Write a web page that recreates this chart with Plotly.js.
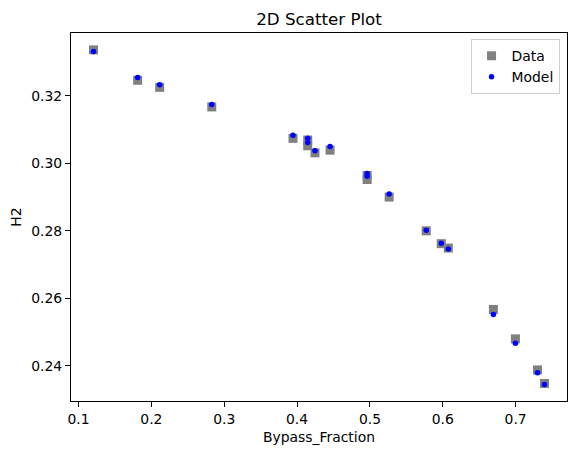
<!DOCTYPE html>
<html>
<head>
<meta charset="utf-8">
<script src="https://cdn.plot.ly/plotly-3.0.1.min.js"></script>
<style>html,body{margin:0;padding:0;background:#fff;}#chart{width:576px;height:455px;}</style>
</head>
<body>
<div id="chart"></div>
<script>
const bypassFraction = [0.1206, 0.1812, 0.2114, 0.2829, 0.3944, 0.4146, 0.4146, 0.4246, 0.4453, 0.4962, 0.4962, 0.5264, 0.5773, 0.5979, 0.6076, 0.6695, 0.6997, 0.7300, 0.7396];
const h2Data = [0.3336, 0.3246, 0.3225, 0.3167, 0.3074, 0.3069, 0.3052, 0.3031, 0.3039, 0.2964, 0.2952, 0.2900, 0.2800, 0.2762, 0.2749, 0.2567, 0.2480, 0.2388, 0.2348];
const h2Model = [0.3331, 0.3254, 0.3233, 0.3174, 0.3083, 0.3074, 0.3062, 0.3037, 0.3050, 0.2970, 0.2962, 0.2909, 0.2802, 0.2763, 0.2746, 0.2552, 0.2467, 0.2380, 0.2345];

const font = "DejaVu Sans, sans-serif";
const traces = [
  {x: bypassFraction, y: h2Data, mode: 'markers', type: 'scatter', name: 'Data',
   marker: {symbol: 'square', size: 9, color: '#808080', line: {width: 0}}},
  {x: bypassFraction, y: h2Model, mode: 'markers', type: 'scatter', name: 'Model',
   marker: {symbol: 'circle', size: 5.5, color: '#0000ff', line: {width: 0}}}
];
const axisCommon = {
  showline: true, linecolor: '#000', linewidth: 1, mirror: true,
  ticks: 'outside', ticklen: 5, tickwidth: 1, tickcolor: '#000',
  showgrid: false, zeroline: false,
  tickfont: {family: font, size: 13.9, color: '#000'}
};
const layout = {
  width: 576, height: 455,
  margin: {l: 71, r: 9, t: 33, b: 54, pad: 0},
  paper_bgcolor: '#fff', plot_bgcolor: '#fff',
  font: {family: font, color: '#000'},
  title: {text: '2D Scatter Plot', font: {family: font, size: 16.7, color: '#000'},
          x: 0.5, xref: 'paper', xanchor: 'center', y: 1, yref: 'paper', yanchor: 'bottom', pad: {b: 8}},
  xaxis: Object.assign({}, axisCommon, {
    range: [0.0897, 0.7705], tickvals: [0.1,0.2,0.3,0.4,0.5,0.6,0.7], tickformat: '.1f',
    title: {text: 'Bypass_Fraction', font: {family: font, size: 13.9, color: '#000'}, standoff: 6}
  }),
  yaxis: Object.assign({}, axisCommon, {
    range: [0.2296, 0.3386], tickvals: [0.24,0.26,0.28,0.30,0.32], tickformat: '.2f',
    title: {text: 'H2', font: {family: font, size: 13.9, color: '#000'}, standoff: 6}
  }),
  showlegend: true,
  legend: {x: 0.985, xanchor: 'right', y: 0.983, yanchor: 'top',
           bgcolor: 'rgba(255,255,255,0.8)', bordercolor: '#d0d0d0', borderwidth: 1,
           font: {family: font, size: 13.9, color: '#000'}, tracegroupgap: 0}
};
Plotly.newPlot('chart', traces, layout, {displayModeBar: false, staticPlot: true});
</script>
</body>
</html>
